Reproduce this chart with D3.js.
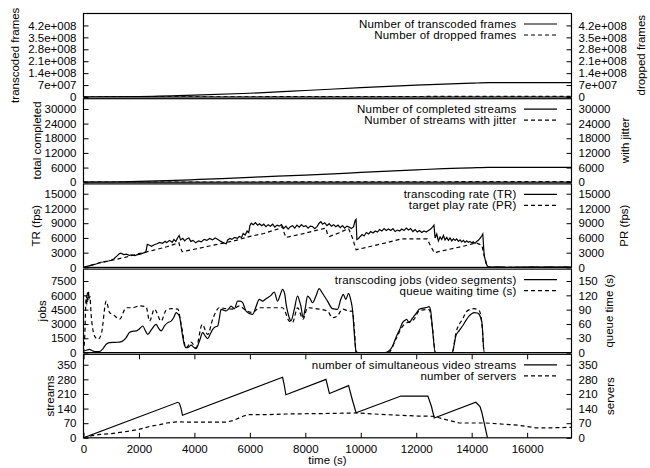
<!DOCTYPE html>
<html>
<head>
<meta charset="utf-8">
<script src="https://cdn.jsdelivr.net/npm/d3@7"></script>
<style>
  body { margin: 0; background: #fff; }
  text { font-family: "Liberation Sans", Arial, Helvetica, sans-serif; font-size: 11.5px; fill: #000; }
  text.legend { font-size: 11.5px; letter-spacing: 0.2px; }
</style>
</head>
<body>
<script>
// ---- data ----
const timeTicks = [0, 2000, 4000, 6000, 8000, 10000, 12000, 14000, 16000];
const framesTicks = [0, 7e7, 1.4e8, 2.1e8, 2.8e8, 3.5e8, 4.2e8];
const completedTicks = [0, 6000, 12000, 18000, 24000, 30000];
const rateTicks = [0, 3000, 6000, 9000, 12000, 15000];
const jobTicks = [0, 1500, 3000, 4500, 6000, 7500];
const queueTicks = [0, 30, 60, 90, 120, 150];
const streamTicks = [0, 70, 140, 210, 280, 350];

// [time (s), value]
const transcodedFrames = [[0,0],[2000,2.5e6],[4000,1.1e7],[6000,2.2e7],[8000,3.8e7],[10000,5.5e7],[12000,7.0e7],[14000,8.1e7],[14600,8.4e7],[17600,8.4e7]];
const droppedFrames = [[0,0],[4000,1e6],[8000,2e6],[12000,3e6],[14600,3.5e6],[17600,3.5e6]];

const completedStreams = [[0,0],[1000,80],[2000,300],[3000,650],[4000,1050],[5000,1500],[6000,2000],[7000,2500],[8000,2900],[9000,3400],[10000,4000],[11000,4550],[12000,5050],[13000,5550],[14000,5900],[14600,6100],[17600,6100]];
const jitterStreams = [[0,0],[4000,50],[8000,120],[12000,180],[14600,200],[17600,200]];

const transcodingRate = [[0,0],[100,150],[200,300],[300,450],[400,600],[500,800],[600,1050],[700,1100],[800,1250],[900,1300],[1000,1450],[1100,1750],[1200,2300],[1300,2800],[1350,2900],[1450,2600],[1550,2700],[1650,2450],[1750,2550],[1850,2400],[1950,2600],[2050,2700],[2150,2900],[2250,3100],[2300,4700],[2380,4500],[2450,4300],[2550,4600],[2650,4800],[2750,5100],[2850,4900],[2950,5300],[3000,5050],[3100,5500],[3200,5100],[3260,5700],[3330,5300],[3400,6100],[3450,6500],[3500,5600],[3580,5900],[3650,5400],[3720,5800],[3800,6000],[3870,5300],[3950,5500],[4050,5000],[4150,5400],[4250,5200],[4350,5700],[4450,5500],[4550,5900],[4650,5600],[4750,6000],[4850,5700],[4950,5300],[5050,5000],[5150,4800],[5200,5600],[5280,5900],[5350,5700],[5450,6100],[5550,5900],[5620,6300],[5700,6100],[5760,6900],[5830,6600],[5900,7400],[5960,7100],[6000,8500],[6050,9000],[6120,8700],[6200,9100],[6280,8600],[6350,8900],[6430,8500],[6500,8800],[6580,8300],[6660,8700],[6740,8400],[6820,8800],[6900,8200],[6980,8600],[7060,8400],[7140,8700],[7220,7900],[7300,8400],[7380,7800],[7460,8300],[7540,8500],[7620,8000],[7700,8600],[7780,8200],[7860,8700],[7940,8300],[8020,8500],[8100,8000],[8180,8400],[8260,8300],[8340,7900],[8420,8300],[8500,9000],[8560,9300],[8620,8800],[8700,9100],[8780,8500],[8860,8900],[8940,8400],[9020,8700],[9100,8300],[9180,8600],[9260,8100],[9340,8500],[9420,8000],[9500,8400],[9580,8200],[9660,7900],[9740,8300],[9800,9600],[9830,9800],[9860,5700],[9920,5900],[9980,6300],[10050,6700],[10120,6400],[10200,7100],[10280,6800],[10360,7300],[10440,7000],[10520,7400],[10600,7200],[10680,7700],[10760,7400],[10840,7900],[10920,7500],[11000,7800],[11080,7500],[11160,7900],[11240,7300],[11320,7600],[11400,7400],[11480,7800],[11560,7500],[11640,8000],[11720,7600],[11800,7900],[11880,7300],[11960,7700],[12040,7200],[12120,7500],[12200,7100],[12280,7400],[12360,7200],[12440,7500],[12520,7800],[12600,8300],[12640,8600],[12680,6000],[12740,6800],[12800,5400],[12860,6200],[12920,5700],[12980,6500],[13040,5600],[13100,6100],[13160,5500],[13220,6000],[13280,5400],[13340,5800],[13400,5500],[13460,5800],[13520,5300],[13580,5600],[13640,5200],[13700,5500],[13760,5100],[13820,5400],[13880,5100],[13940,5300],[14000,5000],[14060,5200],[14120,4900],[14180,5300],[14240,5500],[14300,5900],[14360,6400],[14400,6800],[14450,2500],[14520,800],[14580,150],[14700,50],[15000,100],[15300,30],[15600,80],[15900,40],[16200,120],[16500,50],[16800,90],[17100,40],[17400,100],[17600,60]];
const targetPlayRate = [[0,0],[500,800],[1000,1400],[1500,2050],[2000,2800],[2500,3450],[3000,4200],[3440,5000],[3480,4200],[3560,3200],[4000,3700],[4500,4300],[5000,4900],[5500,5500],[6000,6300],[6500,6900],[7000,7800],[7180,8300],[7240,7000],[7300,6100],[7800,6700],[8300,7400],[8740,8000],[8800,6800],[8870,6300],[9200,7000],[9560,7900],[9700,6000],[9830,3600],[10300,4200],[10900,5000],[11450,5800],[12400,5800],[12480,4800],[12650,3000],[13200,3700],[13700,4300],[14150,5000],[14370,4500],[14450,2400],[14570,0],[17600,0]];

const transcodingJobs = [[0,150],[100,250],[216,330],[320,200],[400,100],[577,100],[700,400],[818,870],[937,1050],[1150,1080],[1297,1100],[1450,1300],[1538,1570],[1658,2100],[1800,2250],[1898,2270],[2000,2450],[2138,2790],[2230,2300],[2318,1920],[2450,2400],[2619,2960],[2700,2600],[2799,2270],[2920,2800],[3040,3140],[3160,3300],[3260,3700],[3339,4190],[3420,4000],[3459,3840],[3560,2000],[3640,800],[3700,520],[3800,600],[3880,780],[3960,600],[4060,420],[4180,1200],[4300,2090],[4400,1700],[4480,1470],[4580,2000],[4660,2440],[4760,2700],[4840,2790],[4900,3600],[4960,4540],[5060,4450],[5140,4360],[5240,4600],[5320,4880],[5440,4600],[5560,5400],[5650,5400],[5740,5230],[5800,4800],[5860,4360],[5980,4100],[6100,4010],[6220,4800],[6340,5580],[6460,5400],[6560,5600],[6640,5760],[6760,6000],[6880,6350],[7000,5400],[7100,6100],[7180,6630],[7260,6100],[7300,5230],[7420,3670],[7480,3320],[7600,4500],[7720,5930],[7800,5300],[7840,4890],[7920,3670],[8000,4700],[8080,5930],[8180,5600],[8260,5230],[8380,5900],[8500,6700],[8600,6300],[8680,5930],[8800,5400],[8980,4600],[9160,4540],[9280,5580],[9370,6100],[9460,5580],[9560,6210],[9640,5500],[9700,4540],[9780,1500],[9826,170],[9900,0],[10860,0],[11000,150],[11150,700],[11266,1570],[11400,2400],[11506,3140],[11600,3400],[11650,3490],[11746,3140],[11840,3500],[11926,3840],[12020,4200],[12108,4540],[12348,4710],[12468,4820],[12530,4200],[12588,2440],[12690,0],[13300,0],[13360,700],[13427,1740],[13550,2300],[13668,2790],[13800,3400],[13910,3840],[14090,4190],[14200,4150],[14270,4010],[14370,3140],[14450,0],[17600,0]];
const queueWaitTime = [[0,0],[40,28],[100,120],[120,100],[140,126],[160,108],[180,128],[200,112],[230,118],[275,80],[400,35],[520,28],[640,38],[820,108],[940,84],[1060,80],[1300,70],[1540,94],[1780,94],[2020,98],[2260,96],[2380,66],[2560,91],[2800,66],[2980,89],[3160,92],[3400,91],[3520,60],[3700,10],[3880,22],[4060,10],[4280,59],[4480,38],[4660,70],[4900,94],[5140,92],[5380,91],[5620,98],[5860,88],[6100,84],[6340,94],[6800,94],[7180,94],[7420,66],[7540,63],[7720,94],[7920,70],[8080,94],[8500,91],[8800,87],[8980,73],[9160,77],[9340,91],[9580,87],[9700,87],[9780,40],[9830,0],[11000,0],[11266,28],[11506,55],[11650,62],[11926,70],[12108,88],[12348,90],[12468,90],[12588,50],[12690,0],[13300,0],[13427,40],[13668,70],[13850,88],[14090,92],[14270,88],[14370,60],[14450,0],[17600,0]];

const simultaneousStreams = [[0,0],[3400,170],[3460,165],[3520,140],[3570,108],[7180,290],[7230,260],[7300,206],[8745,280],[8800,250],[8870,212],[9560,250],[9700,180],[9830,120],[11450,200],[12420,200],[12550,150],[12650,95],[14150,170],[14300,150],[14370,120],[14470,60],[14570,0]];
const numServers = [[0,0],[300,10],[600,16],[1000,20],[1500,29],[2000,40],[2400,55],[2750,63],[3000,71],[3340,76],[4200,75],[5140,75],[5400,83],[5750,103],[5950,111],[6600,111],[7300,114],[8500,116],[9830,119],[10900,111],[12100,104],[12650,103],[13070,87],[13550,71],[14500,71],[15700,60],[16300,48],[16900,48],[17600,50]];

// ---- layout ----
const W = 650, H = 468;
const left = 83.5, right = 571.5;
const top0 = 13.5, step = 85.2, ph = 83.5;

const svg = d3.select("body").append("svg")
    .attr("width", W)
    .attr("height", H);

const x = d3.scaleLinear().domain([0, 17600]).range([left, right]);

function sciFormat(v) {
    if (v === 0) return "0";
    const e = Math.floor(Math.log10(v) + 1e-9);
    const m = +(v / Math.pow(10, e)).toFixed(1);
    return m + "e+" + String(e).padStart(3, "0");
}

const panels = [
    { yMax: 4.9e8, y2Max: 4.9e8, ticks: framesTicks, ticks2: framesTicks, fmt: sciFormat,
      label: "transcoded frames", labelX: 15, label2: "dropped frames", label2X: 641,
      series: [ { name: "Number of transcoded frames", data: transcodedFrames, axis: 1, curve: d3.curveMonotoneX },
                { name: "Number of dropped frames", data: droppedFrames, axis: 2, dash: true, curve: d3.curveMonotoneX } ] },
    { yMax: 34200, y2Max: 34200, ticks: completedTicks, ticks2: completedTicks, fmt: d3.format("d"),
      label: "total completed", labelX: 37, label2: "with jitter", label2X: 625,
      series: [ { name: "Number of completed streams", data: completedStreams, axis: 1, curve: d3.curveMonotoneX },
                { name: "Number of streams with jitter", data: jitterStreams, axis: 2, dash: true, curve: d3.curveMonotoneX } ] },
    { yMax: 17000, y2Max: 17000, ticks: rateTicks, ticks2: rateTicks, fmt: d3.format("d"),
      label: "TR (fps)", labelX: 36, label2: "PR (fps)", label2X: 624,
      series: [ { name: "transcoding rate (TR)", data: transcodingRate, axis: 1, curve: d3.curveLinear },
                { name: "target play rate (PR)", data: targetPlayRate, axis: 2, dash: true, curve: d3.curveLinear } ] },
    { yMax: 8750, y2Max: 175, ticks: jobTicks, ticks2: queueTicks, fmt: d3.format("d"),
      label: "jobs", labelX: 42, label2: "queue time (s)", label2X: 609,
      series: [ { name: "transcoding jobs (video segments)", data: transcodingJobs, axis: 1, curve: d3.curveMonotoneX },
                { name: "queue waiting time (s)", data: queueWaitTime, axis: 2, dash: true, curve: d3.curveMonotoneX } ] },
    { yMax: 400, y2Max: 400, ticks: streamTicks, ticks2: streamTicks, fmt: d3.format("d"),
      label: "streams", labelX: 50, label2: "servers", label2X: 610,
      series: [ { name: "number of simultaneous video streams", data: simultaneousStreams, axis: 1, curve: d3.curveLinear },
                { name: "number of servers", data: numServers, axis: 2, dash: true, curve: d3.curveLinear } ] }
];

panels.forEach((p, i) => {
    const top = top0 + i * step, bottom = top + ph;
    const y = d3.scaleLinear().domain([0, p.yMax]).range([bottom, top]);
    const y2 = d3.scaleLinear().domain([0, p.y2Max]).range([bottom, top]);
    const g = svg.append("g");

    g.append("clipPath").attr("id", "clip" + i)
      .append("rect").attr("x", left).attr("y", top - 1).attr("width", right - left).attr("height", ph + 1);

    // left / right axes, ticks pointing inward
    const la = g.append("g").attr("transform", `translate(${left},0)`)
        .call(d3.axisLeft(y).tickValues(p.ticks).tickFormat(p.fmt).tickSize(-5).tickPadding(7));
    const ra = g.append("g").attr("transform", `translate(${right},0)`)
        .call(d3.axisRight(y2).tickValues(p.ticks2).tickFormat(p.fmt).tickSize(-5).tickPadding(7));
    [la, ra].forEach(a => {
        a.select(".domain").remove();
        a.selectAll("line").attr("stroke", "#000");
        a.selectAll("text").attr("font-size", null).attr("font-family", null);
    });

    // time ticks on the bottom panel
    if (i === panels.length - 1) {
        const ba = g.append("g").attr("transform", `translate(0,${bottom})`)
            .call(d3.axisBottom(x).tickValues(timeTicks).tickFormat(d3.format("d")).tickSize(-5).tickPadding(7));
        const ta = g.append("g").attr("transform", `translate(0,${top})`)
            .call(d3.axisTop(x).tickValues(timeTicks).tickFormat("").tickSize(-5));
        [ba, ta].forEach(a => {
            a.select(".domain").remove();
            a.selectAll("line").attr("stroke", "#000");
            a.selectAll("text").attr("font-size", null).attr("font-family", null);
        });
    }

    // series
    p.series.forEach(s => {
        const ys = s.axis === 2 ? y2 : y;
        g.append("path")
            .datum(s.data)
            .attr("clip-path", `url(#clip${i})`)
            .attr("fill", "none")
            .attr("stroke", "#000")
            .attr("stroke-width", 1.2)
            .attr("stroke-dasharray", s.dash ? "4,3" : null)
            .attr("d", d3.line().curve(s.curve).x(d => x(d[0])).y(d => ys(d[1])));
    });

    // frame
    g.append("rect")
        .attr("x", left).attr("y", top)
        .attr("width", right - left).attr("height", ph)
        .attr("fill", "none").attr("stroke", "#000").attr("stroke-width", 1.2);

    // legend
    p.series.forEach((s, k) => {
        const ly = top + 10.5 + k * 11;
        g.append("text").attr("class", "legend").attr("x", 516.5).attr("y", ly)
            .attr("text-anchor", "end").attr("dominant-baseline", "central").text(s.name);
        g.append("line").attr("x1", 524).attr("x2", 557).attr("y1", ly).attr("y2", ly)
            .attr("stroke", "#000").attr("stroke-width", 1.2)
            .attr("stroke-dasharray", s.dash ? "4,3" : null);
    });

    // axis titles
    const cy = (top + bottom) / 2;
    g.append("text").attr("transform", `translate(${p.labelX},${cy}) rotate(-90)`)
        .attr("text-anchor", "middle").attr("dominant-baseline", "central").text(p.label);
    g.append("text").attr("transform", `translate(${p.label2X},${cy}) rotate(-90)`)
        .attr("text-anchor", "middle").attr("dominant-baseline", "central").text(p.label2);
});

svg.append("text")
    .attr("x", (left + right) / 2).attr("y", 464)
    .attr("text-anchor", "middle")
    .text("time (s)");
</script>
</body>
</html>
